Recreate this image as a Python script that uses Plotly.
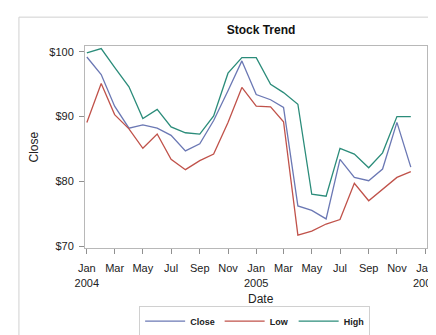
import plotly.graph_objects as go

dates = [f"{y}-{m:02d}-01" for y in (2004, 2005) for m in range(1, 13)]

close = [99.2, 96.5, 91.6, 88.2, 88.7, 88.2, 87.1, 84.7, 85.8, 89.4, 94.0, 98.6,
         93.4, 92.6, 91.4, 76.2, 75.5, 74.2, 83.4, 80.6, 80.1, 81.9, 89.1, 82.2]
low = [89.1, 95.1, 90.3, 88.1, 85.1, 87.3, 83.4, 81.8, 83.2, 84.2, 89.1, 94.5,
       91.6, 91.5, 89.2, 71.7, 72.3, 73.4, 74.1, 79.7, 77.0, 78.7, 80.6, 81.5]
high = [99.85, 100.5, 97.6, 94.6, 89.7, 91.1, 88.4, 87.5, 87.3, 90.1, 96.7, 99.1,
        99.1, 95.0, 93.7, 91.9, 78.0, 77.7, 85.1, 84.2, 82.1, 84.4, 90.0, 90.0]

series_names = ["Close", "Low", "High"]
colors = ["#6b78b4", "#c0524a", "#2b8c7a"]

x_tickvals = ["2004-01-01", "2004-03-01", "2004-05-01", "2004-07-01", "2004-09-01", "2004-11-01",
              "2005-01-01", "2005-03-01", "2005-05-01", "2005-07-01", "2005-09-01", "2005-11-01",
              "2006-01-01"]
x_ticktext = ["Jan<br>2004", "Mar", "May", "Jul", "Sep", "Nov",
              "Jan<br>2005", "Mar", "May", "Jul", "Sep", "Nov", "Jan<br>2006"]
y_tickvals = [70, 80, 90, 100]
y_ticktext = ["$70", "$80", "$90", "$100"]

fig = go.Figure()
for name, vals, col in zip(series_names, [close, low, high], colors):
    fig.add_trace(go.Scatter(x=dates, y=vals, mode="lines", name=name,
                             line=dict(color=col, width=1.3)))

axis_common = dict(showgrid=False, zeroline=False, showline=True, linecolor="#b8b8b8",
                   linewidth=1, mirror=True, ticks="outside", ticklen=5, tickcolor="#909090",
                   tickfont=dict(size=11, color="#222"), ticklabeloverflow="allow")

fig.update_layout(
    width=436, height=335,
    margin=dict(l=77, r=7, t=38, b=87),
    paper_bgcolor="white", plot_bgcolor="white",
    font=dict(family="Liberation Sans, Arial, sans-serif", color="#222"),
    title=dict(text="<b>Stock Trend</b>", x=253 / 436, xanchor="center",
               y=1 - 22 / 335, yanchor="middle", font=dict(size=12, color="#111")),
    xaxis=dict(type="date", range=["2003-12-28", "2006-01-05"],
               tickvals=x_tickvals, ticktext=x_ticktext, ticklabelstandoff=5, **axis_common),
    yaxis=dict(range=[69.7, 100.9], tickvals=y_tickvals, ticktext=y_ticktext,
               ticklabelstandoff=3, **axis_common),
    showlegend=True,
    legend=dict(orientation="h", x=0.496, xanchor="center", y=-0.285, yanchor="top",
                bordercolor="#d0d0d0", borderwidth=1,
                font=dict(size=9, color="#222", weight="bold"),
                itemwidth=40, tracegroupgap=0),
    annotations=[
        dict(text="Close", textangle=-90, x=(25 - 77) / 352, y=0.5, xref="paper", yref="paper",
             showarrow=False, font=dict(size=12, color="#222"), xanchor="center", yanchor="middle"),
        dict(text="Date", x=(258 - 77) / 352, y=(248 - 301) / 210, xref="paper", yref="paper",
             showarrow=False, font=dict(size=12, color="#222"), xanchor="center", yanchor="middle"),
    ],
    shapes=[
        dict(type="rect", xref="paper", yref="paper", x0=(9 - 77) / 352, x1=1.2,
             y0=-0.6, y1=(248 - 8) / 210, line=dict(color="#d0d0d0", width=1), layer="below"),
    ],
)

fig.write_html("out.html")
